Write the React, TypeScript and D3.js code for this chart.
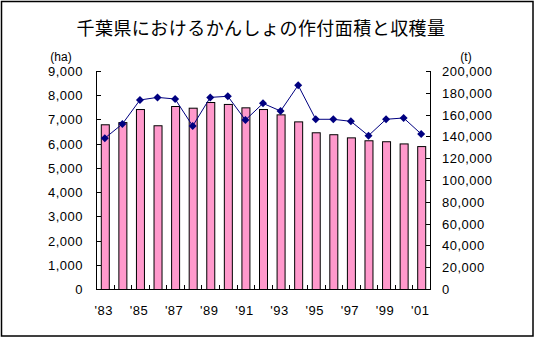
import React from "react";
import * as d3 from "d3";

const years = ["'83","'84","'85","'86","'87","'88","'89","'90","'91","'92","'93","'94","'95","'96","'97","'98","'99","'00","'01"];
const areaHa = [6800,6890,7430,6760,7555,7485,7720,7640,7500,7430,7210,6920,6470,6390,6260,6140,6100,6010,5900];
const harvestT = [138300,151400,173400,175800,174300,149500,175800,176800,155000,170300,163300,186900,155700,155700,153800,140700,155700,156900,142200];
const leftTicks = [0,1000,2000,3000,4000,5000,6000,7000,8000,9000];
const rightTicks = [0,20000,40000,60000,80000,100000,120000,140000,160000,180000,200000];
const title = "千葉県におけるかんしょの作付面積と収穫量";

const W = 534, H = 337;
const plot = { left: 96, right: 430, top: 71, bottom: 289 };
const fmt = d3.format(",");

export default function App() {
  const x = d3.scaleBand<string>().domain(years).range([plot.left, plot.right]).padding(0);
  const yL = d3.scaleLinear().domain([0, 9000]).range([plot.bottom, plot.top]);
  const yR = d3.scaleLinear().domain([0, 200000]).range([plot.bottom, plot.top]);
  const bw = 8;
  const cx = (d: string) => (x(d) as number) + x.bandwidth() / 2;
  const line = d3.line<number>().x((_, i) => cx(years[i])).y(v => yR(v));
  const diamond = "M0,-4L4,0L0,4L-4,0Z";
  const font = "'Liberation Sans', Arial, sans-serif";
  return (
    <div style={{ position: "absolute", left: 0, top: 0 }}>
      <svg width={W} height={H} style={{ display: "block" }}>
        <rect x={0} y={0} width={W} height={H} fill="white" />
        <rect x={1.5} y={1.5} width={W - 2.5} height={H - 2.5} fill="none" stroke="black" strokeWidth={1.5} />
        <text x={261} y={35} textAnchor="middle" fontFamily="'Noto Sans CJK JP', sans-serif" fontSize={18} letterSpacing={0.45} fill="black">{title}</text>
        {years.map((d, i) => (
          <rect key={d} x={cx(d) - bw / 2 + 0.5} y={yL(areaHa[i]) + 0.5} width={bw} height={plot.bottom - yL(areaHa[i])} fill="#FF99CC" stroke="black" strokeWidth={1} />
        ))}
        <path d={line(harvestT) || ""} fill="none" stroke="#000080" strokeWidth={1} />
        {harvestT.map((v, i) => (
          <path key={i} d={diamond} transform={`translate(${cx(years[i])},${yR(v)})`} fill="#000080" />
        ))}
        <line x1={plot.left + 0.5} x2={plot.left + 0.5} y1={plot.top} y2={plot.bottom + 0.5} stroke="black" />
        <line x1={plot.right + 0.5} x2={plot.right + 0.5} y1={plot.top} y2={plot.bottom + 0.5} stroke="black" />
        <line x1={plot.left} x2={plot.right + 1} y1={plot.bottom + 0.5} y2={plot.bottom + 0.5} stroke="black" />
        {leftTicks.map(t => (
          <g key={"l" + t}>
            <line x1={plot.left} x2={plot.left + 5} y1={Math.round(yL(t)) + 0.5} y2={Math.round(yL(t)) + 0.5} stroke="black" />
            <text x={83} y={yL(t) + 5} textAnchor="end" fontFamily={font} fontSize={13} letterSpacing={0.5} fill="black">{fmt(t)}</text>
          </g>
        ))}
        {rightTicks.map(t => (
          <g key={"r" + t}>
            <line x1={plot.right - 4} x2={plot.right + 1} y1={Math.round(yR(t)) + 0.5} y2={Math.round(yR(t)) + 0.5} stroke="black" />
            <text x={442} y={yR(t) + 5} textAnchor="start" fontFamily={font} fontSize={13} letterSpacing={0.5} fill="black">{fmt(t)}</text>
          </g>
        ))}
        {years.slice(1).map(d => (
          <line key={"x" + d} x1={Math.round(x(d) as number) + 0.5} x2={Math.round(x(d) as number) + 0.5} y1={plot.bottom - 4} y2={plot.bottom} stroke="black" />
        ))}
        {years.map((d, i) => i % 2 === 0 ? (
          <text key={"xl" + d} x={cx(d) - 1} y={315} textAnchor="middle" fontFamily={font} fontSize={13} letterSpacing={0.5} fill="black">{d}</text>
        ) : null)}
        <text x={61} y={61} textAnchor="middle" fontFamily={font} fontSize={12} fill="black">(ha)</text>
        <text x={466} y={61} textAnchor="middle" fontFamily={font} fontSize={12} fill="black">(t)</text>
      </svg>
    </div>
  );
}
